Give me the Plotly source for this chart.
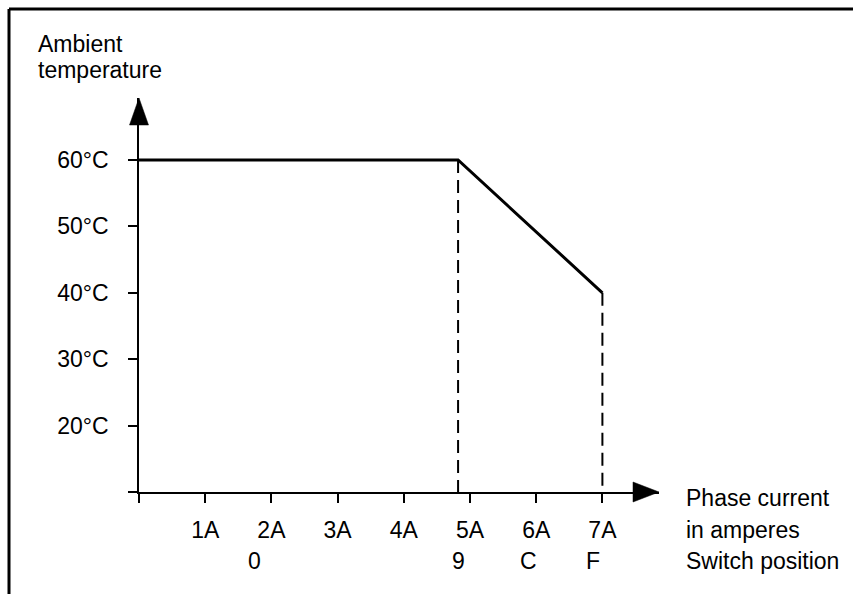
import plotly.graph_objects as go

# ---- data ----
current_ticks = [0, 1, 2, 3, 4, 5, 6, 7]
current_labels = ["", "1A", "2A", "3A", "4A", "5A", "6A", "7A"]
temp_ticks = [10, 20, 30, 40, 50, 60]
temp_labels = ["", "20°C", "30°C", "40°C", "50°C", "60°C"]
curve_x = [0, 4.82, 7]
curve_y = [60, 60, 40]
knee_x = [4.82, 4.82]
knee_y = [60, 10]
end_x = [7, 7]
end_y = [40, 10]
switch_pos = [1.75, 4.82, 5.88, 6.86]
switch_labels = ["0", "9", "C", "F"]

W, H = 853, 594
FONT = "Liberation Sans, Arial, sans-serif"
FS = 23

# axis geometry (pixels)
x0_px, x_tip_px = 139, 659
y0_px, y_tip_px = 492, 98
px_per_amp = 66.2
px_per_deg = 6.64
x_max = (x_tip_px - x0_px) / px_per_amp
y_max = 10 + (y0_px - y_tip_px) / px_per_deg

fig = go.Figure()

fig.add_trace(go.Scatter(x=curve_x, y=curve_y, mode="lines",
                         line=dict(color="black", width=3), hoverinfo="skip"))
for xs, ys in [(knee_x, knee_y), (end_x, end_y)]:
    fig.add_trace(go.Scatter(x=xs, y=ys, mode="lines",
                             line=dict(color="black", width=2, dash="13px,7px"),
                             hoverinfo="skip"))

# arrowheads on an invisible full-page axis pair with the same scale (no clipping)
head_len_x = 26 / px_per_amp
head_hw_y = 10 / px_per_deg
fig.add_trace(go.Scatter(
    x=[x_max, x_max - head_len_x, x_max - head_len_x, x_max],
    y=[10, 10 + head_hw_y, 10 - head_hw_y, 10],
    xaxis="x2", yaxis="y2",
    mode="lines", fill="toself", fillcolor="black",
    line=dict(color="black", width=0.5), hoverinfo="skip"))
head_len_y = 27 / px_per_deg
head_hw_x = 9.5 / px_per_amp
fig.add_trace(go.Scatter(
    x=[0, -head_hw_x, head_hw_x, 0],
    y=[y_max, y_max - head_len_y, y_max - head_len_y, y_max],
    xaxis="x2", yaxis="y2",
    mode="lines", fill="toself", fillcolor="black",
    line=dict(color="black", width=0.5), hoverinfo="skip"))

annotations = []
for xp, lab in zip(switch_pos, switch_labels):
    annotations.append(dict(x=xp, xref="x", y=(H - 561) / H, yref="paper",
                            text=lab, showarrow=False, xanchor="center",
                            yanchor="middle", font=dict(size=FS, color="black", family=FONT)))
for txt, ypx in [("Phase current", 498), ("in amperes", 530), ("Switch position", 561)]:
    annotations.append(dict(x=684 / W, xref="paper", y=(H - ypx) / H, yref="paper",
                            text=txt, showarrow=False, xanchor="left", yanchor="middle",
                            font=dict(size=FS, color="black", family=FONT)))
for txt, ypx in [("Ambient", 44), ("temperature", 70)]:
    annotations.append(dict(x=36 / W, xref="paper", y=(H - ypx) / H, yref="paper",
                            text=txt, showarrow=False, xanchor="left", yanchor="middle",
                            font=dict(size=FS, color="black", family=FONT)))

hidden = dict(visible=False, showgrid=False, zeroline=False, fixedrange=True)

fig.update_layout(
    width=W, height=H,
    margin=dict(l=0, r=0, t=0, b=0),
    paper_bgcolor="white", plot_bgcolor="rgba(0,0,0,0)",
    showlegend=False,
    font=dict(family=FONT, size=FS, color="black"),
    xaxis=dict(domain=[x0_px / W, x_tip_px / W], range=[0, x_max], anchor="y",
               tickvals=current_ticks, ticktext=current_labels,
               showline=True, linecolor="black", linewidth=1.5,
               ticks="outside", ticklen=9, tickwidth=1.5, tickcolor="black",
               showgrid=False, zeroline=False, ticklabelstandoff=8,
               tickfont=dict(size=FS, family=FONT, color="black")),
    yaxis=dict(domain=[(H - y0_px) / H, (H - y_tip_px) / H], range=[10, y_max], anchor="x",
               tickvals=temp_ticks, ticktext=temp_labels,
               showline=True, linecolor="black", linewidth=1.5,
               ticks="outside", ticklen=9, tickwidth=1.5, tickcolor="black",
               showgrid=False, zeroline=False, ticklabelstandoff=15,
               tickfont=dict(size=FS, family=FONT, color="black")),
    xaxis2=dict(domain=[0, 1], anchor="y2",
                range=[-x0_px / px_per_amp, (W - x0_px) / px_per_amp], **hidden),
    yaxis2=dict(domain=[0, 1], anchor="x2",
                range=[10 - (H - y0_px) / px_per_deg, 10 + y0_px / px_per_deg], **hidden),
    annotations=annotations,
    shapes=[
        dict(type="line", xref="paper", yref="paper", x0=9 / W, x1=1, y0=(H - 9) / H, y1=(H - 9) / H,
             line=dict(color="black", width=3)),
        dict(type="line", xref="paper", yref="paper", x0=9 / W, x1=9 / W, y0=0, y1=(H - 9) / H,
             line=dict(color="black", width=3)),
    ],
)

fig.write_html("out.html", config={"displayModeBar": False},
               post_script="document.body.style.margin='0';document.body.style.overflow='hidden';")
